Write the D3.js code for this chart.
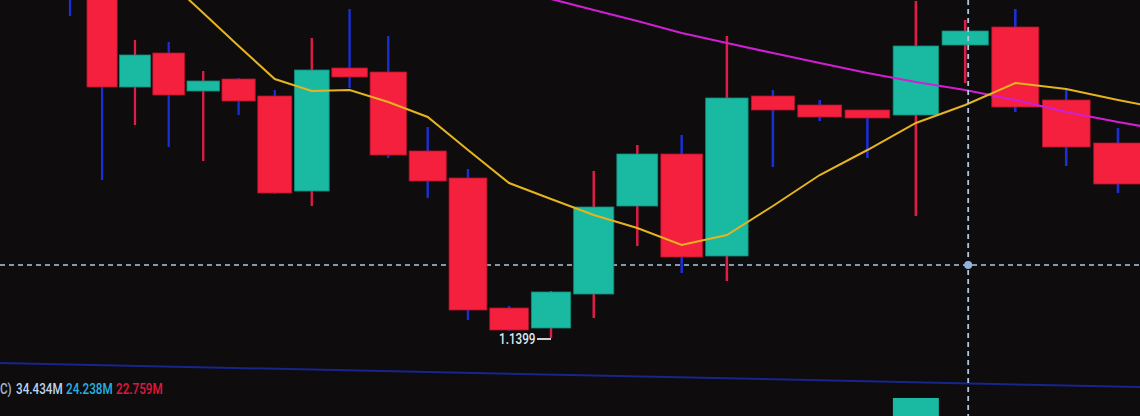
<!DOCTYPE html>
<html>
<head>
<meta charset="utf-8">
<script src="https://cdn.jsdelivr.net/npm/d3@7"></script>
<style>
  html, body { margin: 0; padding: 0; background: #0e0c0d; overflow: hidden; }
  svg { display: block; }
</style>
</head>
<body>
<svg id="chart" width="1140" height="416"></svg>
<script>
// ---- data ----
const candleIndex = d3.range(27);
const opens  = [1.1800,1.1750,1.1650,1.1684,1.1646,1.1658,1.1641,1.1546,1.1669,1.1665,1.1586,1.1559,1.1429,1.1409,1.1443,1.1531,1.1583,1.1481,1.1641,1.1632,1.1627,1.1622,1.1692,1.1710,1.1637,1.1594,1.1553];
const highs  = [1.1810,1.1760,1.1697,1.1695,1.1666,1.1659,1.1647,1.1699,1.1728,1.1701,1.1610,1.1568,1.1431,1.1446,1.1566,1.1592,1.1602,1.1701,1.1647,1.1637,1.1627,1.1736,1.1717,1.1728,1.1647,1.1609,1.1580];
const lows   = [1.1721,1.1557,1.1612,1.1590,1.1576,1.1622,1.1543,1.1531,1.1649,1.1579,1.1539,1.1417,1.1406,1.1399,1.1419,1.1491,1.1464,1.1456,1.1570,1.1616,1.1579,1.1521,1.1654,1.1625,1.1571,1.1544,1.1540];
const closes = [1.1745,1.1650,1.1682,1.1642,1.1656,1.1636,1.1544,1.1667,1.1660,1.1582,1.1556,1.1427,1.1407,1.1445,1.1530,1.1583,1.1480,1.1639,1.1627,1.1620,1.1619,1.1691,1.1706,1.1630,1.1590,1.1553,1.1570];
const maFast = [1.1847,1.1818,1.1787,1.1756,1.1724,1.1691,1.1658,1.1646,1.1647,1.1635,1.1620,1.1587,1.1554,1.1538,1.1522,1.1509,1.1492,1.1502,1.1531,1.1562,1.1587,1.1614,1.1632,1.1654,1.1648,1.1637,1.1627];
const maSlow = [null,null,null,null,null,null,null,null,null,null,1.1771,1.1760,1.1749,1.1738,1.1727,1.1716,1.1704,1.1694,1.1684,1.1674,1.1664,1.1655,1.1647,1.1637,1.1625,1.1615,1.1606];
const volumes = [31,28,22,25,19,18,40,44,21,35,24,48,26,30,45,33,38,50,27,20,22,72,34,46,36,32,30].map(v => v * 1e6);
const volumeLegend = ["34.434M", "24.238M", "22.759M"];
const volumeLegendPrefix = "C)";
const crossPrice = 1.1472;
const crossIndex = 22;

// ---- layout ----
const W = 1140, H = 416;
const svg = d3.select("#chart");
const colors = {
  up: "#19b9a2", upEdge: "#0f8c7a",
  down: "#f4203d", downEdge: "#b3142b",
  upWick: "#e01c48", downWick: "#1b2fd6",
  maFast: "#e5b41e", maSlow: "#d01fd3",
  cross: "#a9c9e2", sep: "#17258c"
};

// perspective-like x scale (candles get wider to the right in the photo)
const pOff = 38.62;
const x = d3.scalePow().exponent(2)
  .domain([pOff, pOff + 25])
  .range([70, 1118]);
const xi = i => x(i + pOff);
const localStep = i => xi(i + 0.5) - xi(i - 0.5);

const y = d3.scaleLinear().domain([1.1321, 1.1737]).range([H, 0]);
const yVol = d3.scaleLinear().domain([0, 80e6]).range([470, 390]);

const data = candleIndex.map(i => ({
  i, o: opens[i], h: highs[i], l: lows[i], c: closes[i],
  up: closes[i] >= opens[i], v: volumes[i]
}));

// pane separator (slightly tilted in the photo)
svg.append("line")
  .attr("x1", 0).attr("x2", W).attr("y1", 363).attr("y2", 387)
  .attr("stroke", colors.sep).attr("stroke-width", 2);

// volume bars
svg.append("g").selectAll("rect").data(data).join("rect")
  .attr("x", d => xi(d.i) - localStep(d.i) * 0.47)
  .attr("width", d => localStep(d.i) * 0.94)
  .attr("y", d => yVol(d.v))
  .attr("height", d => Math.max(0, yVol(0) - yVol(d.v)))
  .attr("fill", d => d.up ? colors.up : colors.down);

// horizontal crosshair
svg.append("line")
  .attr("x1", 0).attr("x2", W)
  .attr("y1", y(crossPrice)).attr("y2", y(crossPrice))
  .attr("stroke", colors.cross).attr("stroke-width", 1.6)
  .attr("stroke-dasharray", "5,4");

// wicks
svg.append("g").selectAll("line").data(data).join("line")
  .attr("x1", d => xi(d.i)).attr("x2", d => xi(d.i))
  .attr("y1", d => y(d.h)).attr("y2", d => y(d.l))
  .attr("stroke", d => d.up ? colors.upWick : colors.downWick)
  .attr("stroke-width", d => 1.6 + localStep(d.i) * 0.02);

// bodies
svg.append("g").selectAll("rect").data(data).join("rect")
  .attr("x", d => xi(d.i) - localStep(d.i) * 0.465)
  .attr("width", d => localStep(d.i) * 0.93)
  .attr("y", d => y(Math.max(d.o, d.c)))
  .attr("height", d => Math.max(1.5, Math.abs(y(d.o) - y(d.c))))
  .attr("fill", d => d.up ? colors.up : colors.down)
  .attr("stroke", d => d.up ? colors.upEdge : colors.downEdge)
  .attr("stroke-width", 0.8);

// moving averages
const lineGen = arr => d3.line()
  .defined(i => arr[i] != null)
  .x(i => xi(i))
  .y(i => y(arr[i]));

svg.append("path").datum(candleIndex)
  .attr("d", lineGen(maSlow))
  .attr("fill", "none").attr("stroke", colors.maSlow).attr("stroke-width", 2.2);

svg.append("path").datum(candleIndex)
  .attr("d", lineGen(maFast))
  .attr("fill", "none").attr("stroke", colors.maFast).attr("stroke-width", 2);

// vertical crosshair
const cx = xi(crossIndex) + 3;
svg.append("line")
  .attr("x1", cx).attr("x2", cx).attr("y1", 0).attr("y2", H)
  .attr("stroke", colors.cross).attr("stroke-width", 1.8)
  .attr("stroke-dasharray", "5,4");
svg.append("circle")
  .attr("cx", cx).attr("cy", y(crossPrice)).attr("r", 4)
  .attr("fill", "#8fb4d8");

// low price label
const minLow = d3.min(lows);
const minIdx = lows.indexOf(minLow);
const lx = xi(minIdx);
svg.append("line")
  .attr("x1", lx - 14).attr("x2", lx)
  .attr("y1", y(minLow) + 1).attr("y2", y(minLow) + 1)
  .attr("stroke", "#dfe8f2").attr("stroke-width", 1.8);
svg.append("text")
  .attr("transform", `translate(${lx - 52},${y(minLow) + 6}) scale(0.78,1)`)
  .attr("font-family", "Roboto, 'DejaVu Sans', sans-serif")
  .attr("font-size", 15).attr("font-weight", 500).attr("fill", "#dfe8f2")
  .text(d3.format(".4f")(minLow));

// volume legend
const legendColors = ["#bcd6ef", "#25b2e2", "#e3173e"];
const legendX = [16, 66, 116];
const legendG = svg.append("g")
  .attr("font-family", "Roboto, 'DejaVu Sans', sans-serif")
  .attr("font-size", 15).attr("font-weight", 500);
legendG.append("text")
  .attr("transform", "translate(0,394) scale(0.78,1)")
  .attr("fill", "#9fb8d0").text(volumeLegendPrefix);
legendG.selectAll("text.v").data(volumeLegend).join("text")
  .attr("class", "v")
  .attr("transform", (d, i) => `translate(${legendX[i]},394) scale(0.78,1)`)
  .attr("fill", (d, i) => legendColors[i])
  .text(d => d);
</script>
</body>
</html>
